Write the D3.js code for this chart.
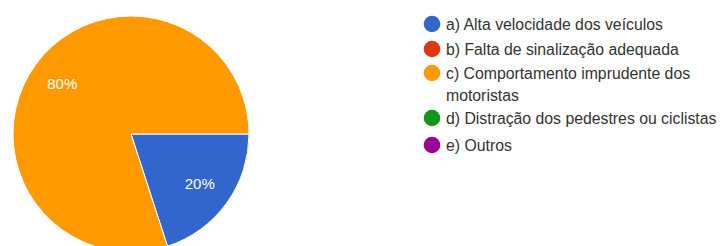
<!DOCTYPE html>
<html><head><meta charset="utf-8">
<script src="https://cdn.jsdelivr.net/npm/d3@7"></script>
<style>html,body{margin:0;padding:0;background:#fff;}</style>
</head><body>
<svg id="chart" width="720" height="246"></svg>
<script>
const categories = ["a) Alta velocidade dos veículos","b) Falta de sinalização adequada","c) Comportamento imprudente dos motoristas","d) Distração dos pedestres ou ciclistas","e) Outros"];
const legendLines = [["a) Alta velocidade dos veículos"],["b) Falta de sinalização adequada"],["c) Comportamento imprudente dos","motoristas"],["d) Distração dos pedestres ou ciclistas"],["e) Outros"]];
const values = [20, 0, 80, 0, 0];
const colors = ["#3366cc","#dc3912","#ff9900","#109618","#990099"];

const svg = d3.select("#chart");
const font = "Arial, 'Liberation Sans', sans-serif";
const cx = 131, cy = 134, R = 118;
const total = d3.sum(values);
const pie = d3.pie().sort(null).value(d => d.v).startAngle(Math.PI/2).endAngle(Math.PI/2 + 2*Math.PI);
const data = categories.map((c,i)=>({c, v: values[i], col: colors[i]}));
const arcs = pie(data).filter(a => a.data.v > 0);
const arc = d3.arc().innerRadius(0).outerRadius(R);
const labelArc = d3.arc().innerRadius(R*0.72).outerRadius(R*0.72);
const g = svg.append("g").attr("transform", `translate(${cx},${cy})`);
g.selectAll("path").data(arcs).join("path")
  .attr("d", arc).attr("fill", d => d.data.col)
  .attr("stroke", "#fff").attr("stroke-width", 1);
g.selectAll("text").data(arcs).join("text")
  .attr("transform", d => `translate(${labelArc.centroid(d)})`)
  .attr("text-anchor", "middle").attr("dy", "0.35em")
  .attr("fill", "#fff").attr("font-family", font).attr("font-size", 15)
  .text(d => Math.round(d.data.v / total * 100) + "%");

const rowY = [24, 49, 73, 118, 145];
const lg = svg.append("g");
legendLines.forEach((lines, i) => {
  const y = rowY[i];
  lg.append("circle").attr("cx", 432).attr("cy", y).attr("r", 8.3).attr("fill", colors[i]);
  const t = lg.append("text").attr("x", 446).attr("y", y)
    .attr("font-family", font).attr("font-size", 15.8).attr("fill", "#333");
  lines.forEach((ln, j) => {
    t.append("tspan").attr("x", 446).attr("dy", j === 0 ? "0.35em" : 22).text(ln);
  });
});
</script>
</body></html>
